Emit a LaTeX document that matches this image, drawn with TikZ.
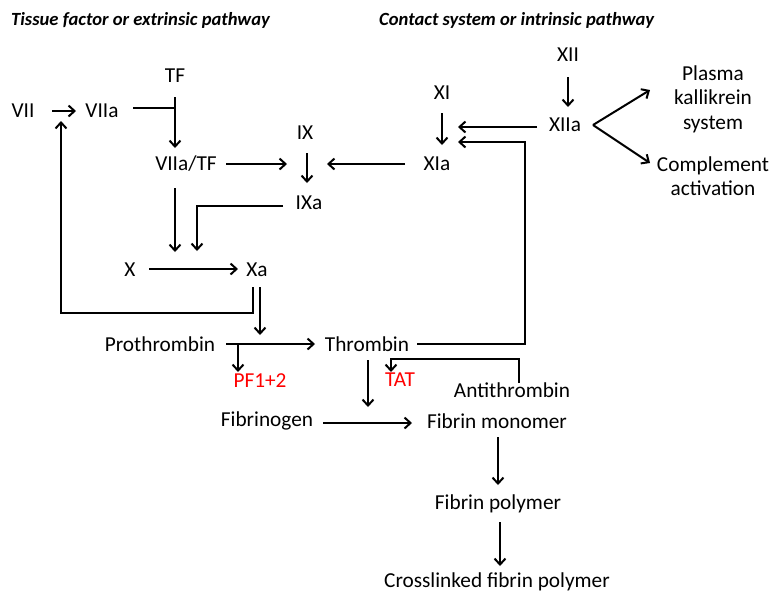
\documentclass[tikz,border=0pt]{standalone}
\usepackage{fontspec}
\setmainfont{Carlito}
\usetikzlibrary{arrows.meta}
\definecolor{tred}{RGB}{255,0,0}
\begin{document}
\begin{tikzpicture}[x=1pt,y=-1pt,
  lbl/.style={inner sep=0pt,font=\fontsize{21.3}{24.5}\selectfont,align=center},
  ttl/.style={inner sep=0pt,anchor=west,font=\fontsize{18.6}{22}\selectfont\bfseries\itshape},
  red/.style={lbl,text=tred},
  arr/.style={line width=2pt,-{Straight Barb[length=6pt,width=11pt,line width=2pt]}},
  ln/.style={line width=2pt}]
\useasboundingbox (0,0) rectangle (769,595);
% titles
\node[ttl] (t1) at (11,20) {Tissue factor or extrinsic pathway};
\node[ttl] (t2) at (379,20) {Contact system or intrinsic pathway};
% labels
\node[lbl] (VII) at (23,111) {VII};
\node[lbl] (VIIa) at (102,111) {VIIa};
\node[lbl] (TF) at (175,76) {TF};
\node[lbl] (VIIaTF) at (186,164) {VIIa/TF};
\node[lbl] (IX) at (305,133) {IX};
\node[lbl] (IXa) at (309,203) {IXa};
\node[lbl] (XI) at (442,93) {XI};
\node[lbl] (XIa) at (437,164) {XIa};
\node[lbl] (XII) at (568,55) {XII};
\node[lbl] (XIIa) at (565,125) {XIIa};
\node[lbl] (PK) at (713,99) {Plasma\\kallikrein\\system};
\node[lbl] (CA) at (713,176) {Complement\\activation};
\node[lbl] (X) at (130,270) {X};
\node[lbl] (Xa) at (257,270) {Xa};
\node[lbl] (Pro) at (160,344) {Prothrombin};
\node[lbl] (Thr) at (367,344) {Thrombin};
\node[red] (PF) at (260,381) {PF1+2};
\node[red] (TAT) at (400,380) {TAT};
\node[lbl] (AT) at (512,390) {Antithrombin};
\node[lbl] (Fg) at (267,421) {Fibrinogen};
\node[lbl] (FM) at (497,421) {Fibrin monomer};
\node[lbl] (FP) at (498,504) {Fibrin polymer};
\node[lbl] (CF) at (497,582) {Crosslinked fibrin polymer};
% coordinates
\coordinate (a1) at (52,111); \coordinate (a2) at (76,111);
\coordinate (tf1) at (175,97); \coordinate (tf2) at (175,148);
\coordinate (v1) at (133,108); \coordinate (v2) at (175,108);
\coordinate (b1) at (226,164); \coordinate (b2) at (287,164);
\coordinate (ix1) at (307,153); \coordinate (ix2) at (307,183);
\coordinate (c1) at (405,164); \coordinate (c2) at (327,164);
\coordinate (d1) at (283,206); \coordinate (d2) at (197,206); \coordinate (d3) at (197,251);
\coordinate (e1) at (175,188); \coordinate (e2) at (175,252);
\coordinate (f1) at (149,269); \coordinate (f2) at (238,269);
\coordinate (g1) at (253,287); \coordinate (g2) at (253,313); \coordinate (g3) at (61,313); \coordinate (g4) at (61,121);
\coordinate (h1) at (260,287); \coordinate (h2) at (260,335);
\coordinate (p1) at (226,344); \coordinate (p2) at (315,344);
\coordinate (q1) at (238,344); \coordinate (q2) at (238,372);
\coordinate (r1) at (417,344); \coordinate (r2) at (525,344); \coordinate (r3) at (525,142); \coordinate (r4) at (458,142);
\coordinate (s1) at (537,127); \coordinate (s2) at (458,127);
\coordinate (u1) at (442,113); \coordinate (u2) at (442,145);
\coordinate (w1) at (568,77); \coordinate (w2) at (568,107);
\coordinate (k0) at (593,125); \coordinate (k1) at (650,90); \coordinate (k2) at (650,163);
\coordinate (m1) at (519,383); \coordinate (m2) at (519,359); \coordinate (m3) at (391,359); \coordinate (m4) at (391,372);
\coordinate (n1) at (368,360); \coordinate (n2) at (368,407);
\coordinate (o1) at (323,423); \coordinate (o2) at (412,423);
\coordinate (y1) at (498,437); \coordinate (y2) at (498,485);
\coordinate (z1) at (500,522); \coordinate (z2) at (500,566);
% connectors
\draw[arr] (a1) -- (a2);
\draw[arr] (tf1) -- (tf2);
\draw[ln] (v1) -- (v2);
\draw[arr] (b1) -- (b2);
\draw[arr] (ix1) -- (ix2);
\draw[arr] (c1) -- (c2);
\draw[arr] (d1) -- (d2) -- (d3);
\draw[arr] (e1) -- (e2);
\draw[arr] (f1) -- (f2);
\draw[arr] (g1) -- (g2) -- (g3) -- (g4);
\draw[arr] (h1) -- (h2);
\draw[arr] (p1) -- (p2);
\draw[arr] (q1) -- (q2);
\draw[arr] (r1) -- (r2) -- (r3) -- (r4);
\draw[arr] (s1) -- (s2);
\draw[arr] (u1) -- (u2);
\draw[arr] (w1) -- (w2);
\draw[arr] (k0) -- (k1);
\draw[arr] (k0) -- (k2);
\draw[arr] (m1) -- (m2) -- (m3) -- (m4);
\draw[arr] (n1) -- (n2);
\draw[arr] (o1) -- (o2);
\draw[arr] (y1) -- (y2);
\draw[arr] (z1) -- (z2);
\end{tikzpicture}
\end{document}
